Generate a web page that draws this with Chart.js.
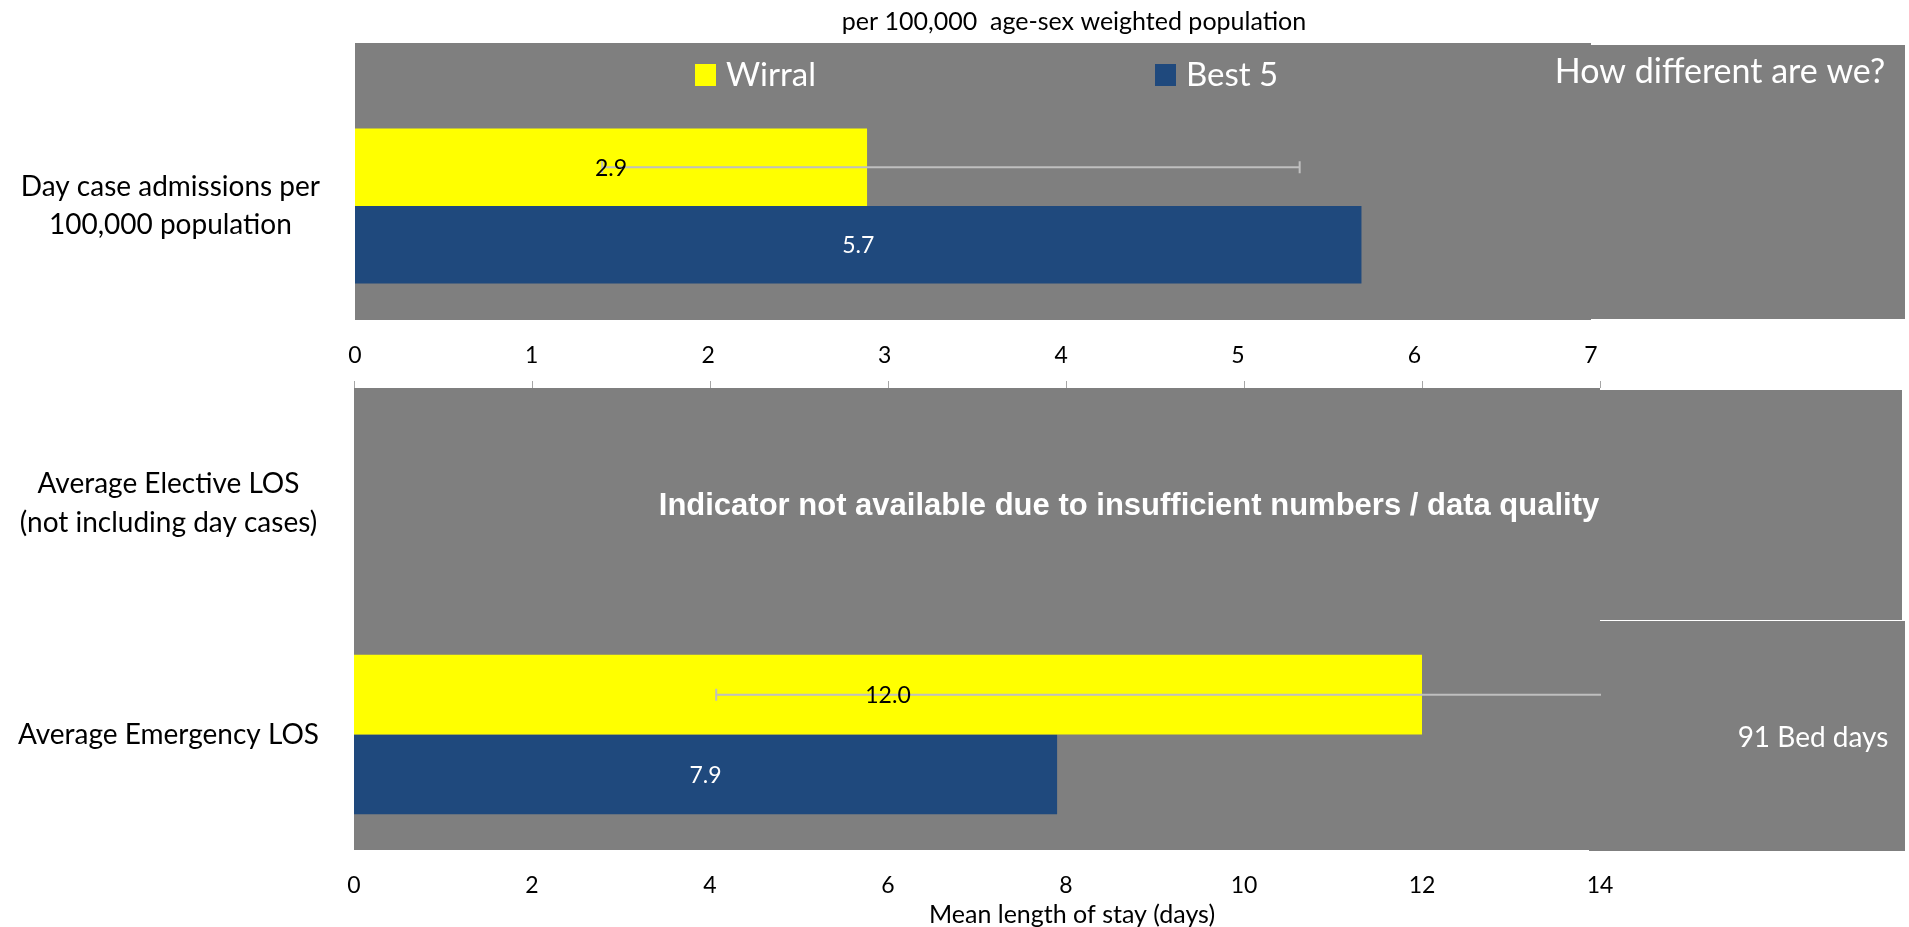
<!DOCTYPE html>
<html>
<head>
<meta charset="utf-8">
<script src="https://cdn.jsdelivr.net/npm/chart.js@4.4.1/dist/chart.umd.min.js"></script>
<style>
  body { margin: 0; background: #ffffff; }
  #wrap { position: relative; width: 1909px; height: 927px; overflow: hidden; }
  canvas { position: absolute; left: 0; }
  #topChart { top: 0; }
  #losChart { top: 370px; }
</style>
</head>
<body>
<div id="wrap">
  <canvas id="topChart" width="1909" height="370"></canvas>
  <canvas id="losChart" width="1909" height="557"></canvas>
</div>
<script>
'use strict';
// series
var seriesNames = ['Wirral', 'Best 5'];
var seriesColours = ['#ffff00', '#1f497d'];
var labelColours = ['#000000', '#ffffff'];

// top panel: day case admissions
var dayCaseLabels = [['Day case admissions per', '100,000 population']];
var dayCaseWirral = [2.9];
var dayCaseBest = [5.7];
var dayCaseLow = [1.4];
var dayCaseHigh = [5.35];

// bottom panel: length of stay
var losLabels = [['Average Elective LOS', '(not including day cases)'], 'Average Emergency LOS'];
var losWirral = [null, 12.0];
var losBest = [null, 7.9];
var losLow = [null, 4.07];
var losHigh = [null, 16];

var grey = '#7f7f7f';
var font = 'Lato';

function text(ctx, str, x, y, size, colour, weight, family) {
  ctx.save();
  ctx.font = (weight || 'normal') + ' ' + size + 'px ' + (family || font);
  ctx.fillStyle = colour;
  ctx.textAlign = 'center';
  ctx.textBaseline = 'middle';
  ctx.fillText(str, x, y);
  ctx.restore();
}

// error bars + centred value labels
var barExtras = {
  id: 'barExtras',
  afterDatasetsDraw: function(chart, args, opts) {
    var ctx = chart.ctx;
    var xs = chart.scales.x;
    var area = chart.chartArea;
    var meta0 = chart.getDatasetMeta(0);
    ctx.save();
    ctx.beginPath();
    ctx.rect(area.left, area.top - 10, area.right - area.left + 1, area.bottom - area.top + 20);
    ctx.clip();
    ctx.strokeStyle = '#bfbfbf';
    ctx.lineWidth = 2;
    for (var i = 0; i < opts.low.length; i++) {
      if (opts.low[i] == null) continue;
      var bar = meta0.data[i];
      var x1 = xs.getPixelForValue(opts.low[i]);
      var x2 = xs.getPixelForValue(opts.high[i]);
      ctx.beginPath();
      ctx.moveTo(x1, bar.y); ctx.lineTo(x2, bar.y);
      ctx.moveTo(x1, bar.y - 6); ctx.lineTo(x1, bar.y + 6);
      ctx.moveTo(x2, bar.y - 6); ctx.lineTo(x2, bar.y + 6);
      ctx.stroke();
    }
    ctx.restore();
    chart.data.datasets.forEach(function(ds, d) {
      chart.getDatasetMeta(d).data.forEach(function(bar, i) {
        if (ds.data[i] == null) return;
        text(ctx, ds.data[i].toFixed(1), (bar.x + bar.base) / 2, bar.y + 1, 23, labelColours[d]);
      });
    });
  }
};

// grey panels and text boxes
var panels = {
  id: 'panels',
  beforeDraw: function(chart, args, opts) {
    var ctx = chart.ctx;
    ctx.save();
    ctx.fillStyle = grey;
    opts.rects.forEach(function(r) { ctx.fillRect(r[0], r[1], r[2], r[3]); });
    ctx.restore();
  },
  afterDraw: function(chart, args, opts) {
    var ctx = chart.ctx;
    opts.texts.forEach(function(t) { text(ctx, t[0], t[1], t[2], t[3], t[4], t[5], t[6]); });
    if (opts.legend) {
      chart.data.datasets.forEach(function(ds, d) {
        var lx = opts.legend[d];
        ctx.fillStyle = ds.backgroundColor;
        ctx.fillRect(lx, 64, 21, 22);
        ctx.save();
        ctx.font = '33px ' + font;
        ctx.fillStyle = '#ffffff';
        ctx.textBaseline = 'middle';
        ctx.fillText(ds.label, lx + 31, 75);
        ctx.restore();
      });
    }
  }
};

function yAxis(width) {
  return {
    type: 'category',
    grid: { display: false, drawTicks: false },
    border: { display: false },
    ticks: { color: '#000000', crossAlign: 'center', padding: 35,
             font: { family: font, size: 28, lineHeight: 1.36 } },
    afterFit: function(s) {
      s.width = width;
      // labels must not push the plot area around
      s.paddingTop = 0;
      s.paddingBottom = 0;
    }
  };
}

function datasets(a, b, pct) {
  return [a, b].map(function(vals, i) {
    return { label: seriesNames[i], data: vals, backgroundColor: seriesColours[i],
             barPercentage: 1, categoryPercentage: pct };
  });
}

new Chart(document.getElementById('topChart'), {
  type: 'bar',
  data: { labels: dayCaseLabels, datasets: datasets(dayCaseWirral, dayCaseBest, 0.68) },
  plugins: [panels, barExtras],
  options: {
    indexAxis: 'y',
    responsive: false,
    animation: false,
    devicePixelRatio: 1,
    layout: { padding: { top: 92, right: 318, left: 0, bottom: 0 } },
    scales: {
      x: {
        min: 0, max: 7,
        grid: { display: false, drawTicks: false },
        border: { display: false },
        ticks: { stepSize: 1, padding: 22, color: '#000000', font: { family: font, size: 23 } },
        afterFit: function(s) { s.height = 50; }
      },
      y: yAxis(355)
    },
    plugins: {
      legend: { display: false },
      tooltip: { enabled: false },
      barExtras: { low: dayCaseLow, high: dayCaseHigh },
      panels: {
        rects: [[355, 43, 1236, 277], [1591, 45, 314, 274]],
        texts: [
          ['per 100,000  age-sex weighted population', 1074, 22, 25, '#000000'],
          ['How different are we?', 1720, 72, 34, '#ffffff']
        ],
        legend: [695, 1155]
      }
    }
  }
});

new Chart(document.getElementById('losChart'), {
  type: 'bar',
  data: { labels: losLabels, datasets: datasets(losWirral, losBest, 0.69) },
  plugins: [panels, barExtras],
  options: {
    indexAxis: 'y',
    responsive: false,
    animation: false,
    devicePixelRatio: 1,
    layout: { padding: { top: 0, right: 309, left: 0, bottom: 0 } },
    scales: {
      x: {
        min: 0, max: 14,
        grid: { display: false, drawTicks: false },
        border: { display: false },
        ticks: { stepSize: 2, padding: 22, color: '#000000', font: { family: font, size: 23 } },
        afterFit: function(s) { s.height = 77; }
      },
      x2: {
        type: 'linear', position: 'top', min: 0, max: 14,
        grid: { drawOnChartArea: false, drawTicks: true, tickLength: 7, color: '#a6a6a6' },
        border: { display: false },
        ticks: { stepSize: 2, display: false },
        afterFit: function(s) { s.height = 18; }
      },
      y: yAxis(354)
    },
    plugins: {
      legend: { display: false },
      tooltip: { enabled: false },
      barExtras: { low: losLow, high: losHigh },
      panels: {
        rects: [[354, 18, 1246, 462], [1600, 20, 302, 230], [1589, 251, 316, 230]],
        texts: [
          ['Indicator not available due to insufficient numbers / data quality', 1129, 136, 31, '#ffffff', 'bold', '"Liberation Sans", Arial'],
          ['91 Bed days', 1813, 368, 28, '#ffffff'],
          ['Mean length of stay (days)', 1072, 545, 25, '#000000']
        ]
      }
    }
  }
});
</script>
</body>
</html>
